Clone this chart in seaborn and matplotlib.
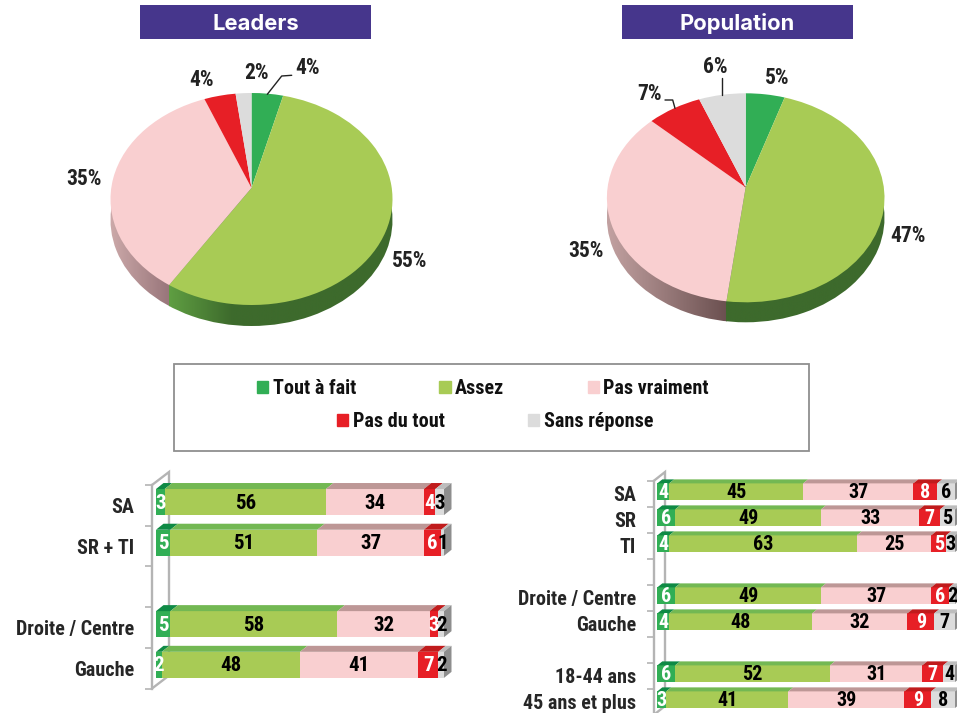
import numpy as np
import matplotlib
matplotlib.use('Agg')
import matplotlib.pyplot as plt
import seaborn as sns
from matplotlib.colors import LinearSegmentedColormap
from matplotlib.patches import Patch, Polygon, Rectangle
from matplotlib.transforms import Transform

# data
segments = ['Tout à fait', 'Assez', 'Pas vraiment', 'Pas du tout', 'Sans réponse']
pie_leaders = [4, 55, 35, 4, 2]
pie_population = [5, 47, 35, 7, 6]

cats_leaders = ['SA', 'SR + TI', ' ', 'Droite / Centre', 'Gauche']
tout_leaders = [3, 5, 0, 5, 2]
assez_leaders = [56, 51, 0, 58, 48]
vraiment_leaders = [34, 37, 0, 32, 41]
dutout_leaders = [4, 6, 0, 3, 7]
sr_leaders = [3, 1, 0, 2, 2]

cats_pop = ['SA', 'SR', 'TI', ' ', 'Droite / Centre', 'Gauche', '  ', '18-44 ans', '45 ans et plus']
tout_pop = [4, 6, 4, 0, 6, 4, 0, 6, 3]
assez_pop = [45, 49, 63, 0, 49, 48, 0, 52, 41]
vraiment_pop = [37, 33, 25, 0, 37, 32, 0, 31, 39]
dutout_pop = [8, 7, 5, 0, 6, 9, 0, 7, 9]
sr_pop = [6, 5, 3, 0, 2, 7, 0, 4, 8]

# styles
colors = ['#31ae55', '#a8cb55', '#f9cfd0', '#e71f26', '#dcdcdc']
top_colors = ['#0f8a45', '#73b853', '#bd9796', '#c01b1c', '#bdbdbd']
label_colors = ['white', 'black', 'black', 'white', 'black']
WALL = '#b4b4b4'
W, H = 957, 713

sns.set_theme(style='white')
plt.rcParams['font.family'] = ['Roboto Condensed', 'Liberation Sans', 'DejaVu Sans']
plt.rcParams['font.weight'] = 'bold'
plt.rcParams['text.color'] = '#111111'

fig = plt.figure(figsize=(W / 100, H / 100), dpi=100)


def px_axes(x0, y0, x1, y1, z):
    ax = fig.add_axes([x0 / W, 1 - y1 / H, (x1 - x0) / W, (y1 - y0) / H], zorder=z)
    ax.patch.set_alpha(0)
    return ax


# the pies lean backwards, so the apex sits above the middle of the ellipse
class Lean(Transform):
    input_dims = output_dims = 2

    def __init__(self, cx, cy, rx, up, down, drop=0):
        super().__init__()
        self.cx, self.cy, self.drop = cx, cy, drop
        self.k = (down - up) / (down + up)
        self.sy = up * (1 + self.k)
        self.rx = rx * np.sqrt(1 - self.k ** 2)

    def transform_non_affine(self, xy):
        xy = np.asarray(xy)
        w = 1 + self.k * xy[:, 1]
        return np.column_stack([self.cx + self.rx * xy[:, 0] / w,
                                self.cy + self.drop - self.sy * xy[:, 1] / w])


ov = px_axes(0, 0, W, H, 0)


def draw_pie(values, cx, cy, rx, up, down, depth, pink_fade, green_fade):
    base, _ = ov.pie([100], startangle=90, colors=['none'], wedgeprops={'linewidth': 0})
    top, _ = ov.pie(values, startangle=90, counterclock=False, colors=colors,
                    wedgeprops={'linewidth': 0})
    lean = Lean(cx, cy, rx, up, down)
    low = Lean(cx, cy, rx, up, down, depth)
    for w in top:
        w.set_transform(lean + ov.transData)
        w.set_zorder(3)
    base[0].set_transform(low + ov.transData)
    # rim changes colour straight below the pink/green edge of the top face
    pts = lean.transform_non_affine(top[2].get_path().vertices)
    edge_x = pts[np.argmax(pts[:, 1]), 0]
    ramp = np.linspace(0, 1, 256)[None, :]
    y0, y1 = cy, cy + down + depth + 3
    im = ov.imshow(ramp, aspect='auto', zorder=2, extent=[cx - rx - 2, edge_x, y1, y0],
                   cmap=LinearSegmentedColormap.from_list('p', pink_fade))
    im.set_clip_path(base[0])
    im = ov.imshow(ramp, aspect='auto', zorder=2, extent=[edge_x, cx + rx + 2, y1, y0],
                   cmap=LinearSegmentedColormap.from_list('g', green_fade))
    im.set_clip_path(base[0])


draw_pie(pie_leaders, 251.5, 188, 141, 95, 117, 21,
         ['#cdaaaa', '#98757a'], [(0, '#5f9e42'), (0.28, '#3d6a2c'), (1, '#3d6a2c')])
draw_pie(pie_population, 745.7, 187.3, 138.8, 94, 115, 20,
         ['#c4a3a3', '#6b5050'], ['#3d6a2c', '#3d6a2c'])

# pie labels
for lab, x, y in [('4%', 307.7, 67.7), ('2%', 256.7, 73.3), ('4%', 201.3, 79.7),
                  ('35%', 84.3, 179), ('55%', 410, 261),
                  ('5%', 777.3, 78.3), ('6%', 715.7, 67), ('7%', 649.3, 93.7),
                  ('35%', 586, 251), ('47%', 908, 236)]:
    ov.text(x, y, lab, ha='center', va='center', fontsize=15.5, color='#222222')
for xs, ys in [([267.3, 281.7, 291.7], [94.3, 76, 75.3]),
               ([722.3, 722.3], [78, 95]),
               ([665, 672.7, 675], [100, 100, 108.3])]:
    ov.plot(xs, ys, color='#222222', lw=1, zorder=4)

# title boxes
for title, x0 in [('Leaders', 140), ('Population', 622)]:
    ov.add_patch(Rectangle((x0, 5), 231, 34, fc='#46368c', ec='none'))
    ov.text(x0 + 115.5, 24, title, ha='center', va='center', color='white',
            fontsize=15.8, family='Inter', weight='bold')

# legend
ov.add_patch(Rectangle((174, 364), 635, 87, fc='none', ec='#8f8f8f', lw=1.3))
handles = [Patch(color=c, label=s) for c, s in zip(colors, segments)]
leg_kws = dict(loc='center left', frameon=False, fontsize=14.5, borderpad=0, borderaxespad=0,
               handlelength=0.55, handleheight=0.55, handletextpad=0.22, columnspacing=4.15,
               bbox_transform=ov.transData)
leg1 = ov.legend(handles=handles[:3], ncol=3, bbox_to_anchor=(257, 389), **leg_kws)
ov.add_artist(leg1)
ov.legend(handles=handles[3:], ncol=2, bbox_to_anchor=(337, 421.5), **leg_kws)


def draw_bars(cats, rows, fx, wtop, step, bx0, bx1, yshift, dx, dy, wall_dx, wall_dy, fs):
    n = len(cats)
    wbot = wtop + n * step
    # back wall, partly hidden by the bars
    ov.plot([fx, fx + wall_dx, fx + wall_dx, fx], [wtop, wtop - wall_dy, wbot - wall_dy, wbot],
            color=WALL, lw=1.7, zorder=1, solid_joinstyle='miter')
    wall = px_axes(fx, wtop, fx + 1, wbot, 1)
    wall.set_ylim(n, 0)
    wall.set_xticks([])
    sns.despine(ax=wall, left=False, right=True, top=True, bottom=True)
    wall.spines['left'].set_color(WALL)
    wall.spines['left'].set_linewidth(1.7)
    wall.set_yticks(np.arange(n + 1))
    wall.set_yticklabels([])
    wall.set_yticks(np.arange(n) + 0.5, labels=cats, minor=True)
    wall.tick_params(axis='y', which='major', left=True, length=5, width=1.2, color=WALL)
    wall.tick_params(axis='y', which='minor', left=False, length=0, pad=13, labelsize=14.5)

    ax = px_axes(bx0, wtop + yshift, bx1, wbot + yshift, 2)
    rows = np.array(rows, dtype=float)
    cum = rows.cumsum(axis=0)
    # longest first, every shorter total goes on top of the one before
    for j in range(4, -1, -1):
        sns.barplot(y=cats, x=cum[j], orient='h', color=colors[j], saturation=1,
                    width=0.64, ax=ax, order=cats, linewidth=0)
    bars = ax.containers[0]
    ax.set_xlim(0, 100)
    ax.set_ylim(n - 0.5, -0.5)
    ax.axis('off')
    ux = dx * 100 / (bx1 - bx0)
    uy = dy / step
    for i, b in enumerate(bars):
        if rows[:, i].sum() == 0:
            continue
        ya, yb = b.get_y(), b.get_y() + b.get_height()
        left = 0
        for j in range(5):
            right = cum[j, i]
            ax.add_patch(Polygon([(left, ya), (right, ya), (right + ux, ya - uy), (left + ux, ya - uy)],
                                 fc=top_colors[j], ec='none', clip_on=False, zorder=3))
            ax.text((left + right) / 2, i + 1 / step, int(rows[j, i]), ha='center', va='center',
                    fontsize=fs, color=label_colors[j], zorder=5, clip_on=False)
            left = right
        ax.add_patch(Polygon([(left, ya), (left + ux, ya - uy), (left + ux, yb - uy), (left, yb)],
                             fc='#8e8e8e', ec='none', clip_on=False, zorder=3))


draw_bars(cats_leaders, [tout_leaders, assez_leaders, vraiment_leaders, dutout_leaders, sr_leaders],
          152, 485, 40.7, 156, 444, -3.3, 7.5, 6, 17, 13, 15)
draw_bars(cats_pop, [tout_pop, assez_pop, vraiment_pop, dutout_pop, sr_pop],
          654, 480.7, 26, 657.3, 955, -2, 5, 4, 11, 8.7, 14.5)

ov.set_xlim(0, W)
ov.set_ylim(H, 0)
ov.set_aspect('auto')
ov.axis('off')

plt.savefig('out.png', dpi=100)
